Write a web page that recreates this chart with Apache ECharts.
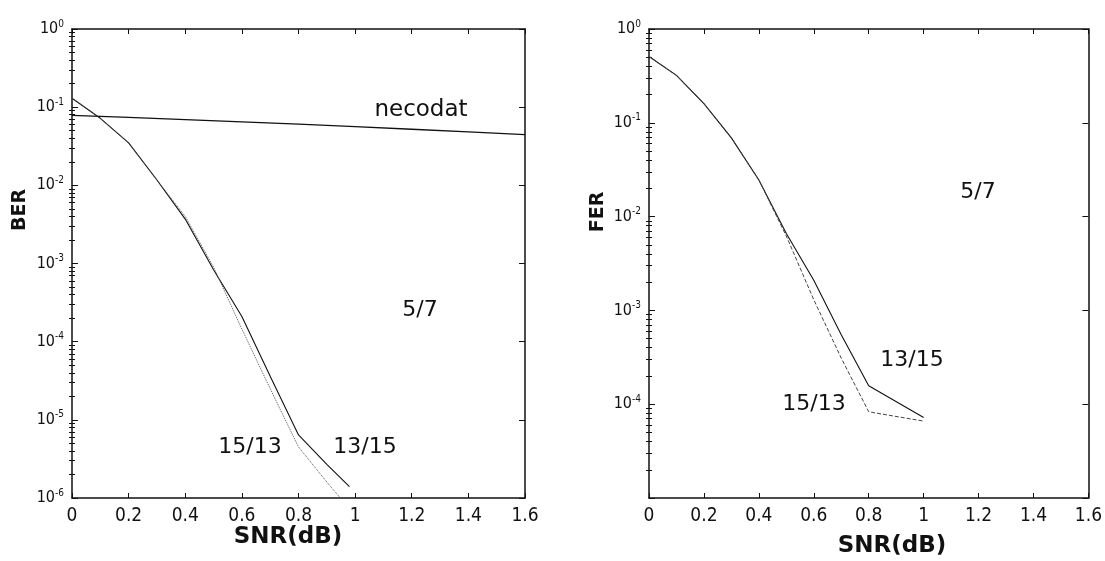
<!DOCTYPE html>
<html>
<head>
<meta charset="utf-8">
<script src="https://cdn.jsdelivr.net/npm/echarts@6/dist/echarts.min.js"></script>
<style>html,body{margin:0;padding:0;background:#fff}#c{width:1105px;height:561px}</style>
</head>
<body>
<div id="c"></div>
<script>
// ---- data ----
const xTicks = [0, 0.2, 0.4, 0.6, 0.8, 1.0, 1.2, 1.4, 1.6];
const berDecades = [1e-6, 1e-5, 1e-4, 1e-3, 1e-2, 1e-1, 1];
const ferDecades = [1e-5, 1e-4, 1e-3, 1e-2, 1e-1, 1];

// BER plot
const necodatSNR = [0, 0.2, 0.4, 0.6, 0.8, 1.0, 1.2, 1.4, 1.6];
const necodatBER = [0.0786, 0.074, 0.0693, 0.0649, 0.0606, 0.0563, 0.0522, 0.0483, 0.0446];
const ber1315SNR = [0, 0.1, 0.2, 0.3, 0.4, 0.5, 0.6, 0.7, 0.8, 0.9, 0.98];
const ber1315 = [0.13, 0.072, 0.035, 0.0117, 0.0037, 8.3e-4, 2.1e-4, 3.6e-5, 6.4e-6, 2.7e-6, 1.4e-6];
const ber1513SNR = [0, 0.1, 0.2, 0.3, 0.4, 0.5, 0.6, 0.7, 0.8, 0.9, 1.0];
const ber1513 = [0.13, 0.072, 0.035, 0.0117, 0.0040, 9.0e-4, 1.45e-4, 2.5e-5, 4.5e-6, 1.6e-6, 6e-7];

// FER plot
const ferSNR = [0, 0.1, 0.2, 0.3, 0.4, 0.5, 0.6, 0.7, 0.8, 1.0];
const fer1315 = [0.51, 0.32, 0.16, 0.069, 0.0246, 0.0066, 0.0021, 5.5e-4, 1.57e-4, 7.2e-5];
const fer1513 = [0.51, 0.32, 0.16, 0.069, 0.0246, 0.0062, 0.0013, 3.1e-4, 8.3e-5, 6.6e-5];

function pairs(xs, ys) { return xs.map((x, i) => [x, ys[i]]); }
function minorsFor(decades) {
  const out = [];
  for (let d = 0; d < decades.length - 1; d++) {
    for (let k = 2; k <= 9; k++) out.push(decades[d] * k);
  }
  return out;
}

const FONT_TICK = '"Liberation Sans Narrow", "DejaVu Sans Condensed", "Liberation Sans", sans-serif';
const FONT_TXT = '"DejaVu Sans", Verdana, sans-serif';
const BLACK = '#111';

function yFormatter(hideBelow) {
  return function (v) {
    const e = Math.round(Math.log10(v));
    if (hideBelow !== undefined && e <= hideBelow) return '';
    return '{b|10}{s|' + e + '}';
  };
}
const yRich = {
  b: { fontSize: 16, fontFamily: FONT_TICK, color: BLACK },
  s: { fontSize: 10, fontFamily: FONT_TICK, color: BLACK, padding: [0, 0, 10, 0] }
};

function xAxesFor(gi) {
  return [
    {
      type: 'value', gridIndex: gi, min: 0, max: 1.6, interval: 0.2, position: 'bottom',
      axisLine: { show: true, onZero: false, lineStyle: { color: BLACK, width: 1.5 } },
      axisTick: { inside: true, length: 5, lineStyle: { color: BLACK } },
      axisLabel: { margin: 9, fontSize: 19, fontFamily: FONT_TICK, color: BLACK },
      splitLine: { show: false }
    },
    {
      type: 'value', gridIndex: gi, min: 0, max: 1.6, interval: 0.2, position: 'top',
      axisLine: { show: true, onZero: false, lineStyle: { color: BLACK, width: 1.5 } },
      axisTick: { inside: true, length: 5, lineStyle: { color: BLACK } },
      axisLabel: { show: false }, splitLine: { show: false }
    }
  ];
}
function yAxesFor(gi, min, decades, hideBelow) {
  const minors = minorsFor(decades);
  const base = {
    type: 'log', logBase: 10, gridIndex: gi, min: min, max: 1,
    splitLine: { show: false }
  };
  return [
    Object.assign({}, base, {
      position: 'left',
      axisLine: { show: true, onZero: false, lineStyle: { color: BLACK, width: 1.5 } },
      axisTick: { inside: true, length: 6, customValues: decades, lineStyle: { color: BLACK } },
      axisLabel: { margin: 8, customValues: decades, formatter: yFormatter(hideBelow), rich: yRich }
    }),
    Object.assign({}, base, {
      position: 'left',
      axisLine: { show: false },
      axisTick: { inside: true, length: 3, customValues: minors, lineStyle: { color: BLACK } },
      axisLabel: { show: false }
    }),
    Object.assign({}, base, {
      position: 'right',
      axisLine: { show: true, onZero: false, lineStyle: { color: BLACK, width: 1.5 } },
      axisTick: { inside: true, length: 6, customValues: decades, lineStyle: { color: BLACK } },
      axisLabel: { show: false }
    }),
    Object.assign({}, base, {
      position: 'right',
      axisLine: { show: false },
      axisTick: { inside: true, length: 3, customValues: minors, lineStyle: { color: BLACK } },
      axisLabel: { show: false }
    })
  ];
}

function line(xi, yi, data, style) {
  return {
    type: 'line', xAxisIndex: xi, yAxisIndex: yi, data: data,
    showSymbol: false, symbol: 'none', animation: false, clip: true,
    lineStyle: Object.assign({ color: BLACK, width: 1 }, style)
  };
}

function txt(x, y, s, opts) {
  return {
    type: 'text', x: x, y: y, rotation: (opts && opts.rot) || 0,
    style: Object.assign({
      text: s, fill: BLACK, font: '22px ' + FONT_TXT,
      textAlign: 'center', textVerticalAlign: 'middle'
    }, opts && opts.style)
  };
}

const chart = echarts.init(document.getElementById('c'), null, { renderer: 'canvas' });
chart.setOption({
  backgroundColor: '#fff',
  animation: false,
  grid: [
    { left: 72, top: 29, width: 453, height: 469 },
    { left: 649, top: 29, width: 441, height: 469 }
  ],
  xAxis: xAxesFor(0).concat(xAxesFor(1)),
  yAxis: yAxesFor(0, 1e-6, berDecades).concat(yAxesFor(1, 1e-5, ferDecades, -5)),
  series: [
    line(0, 0, pairs(necodatSNR, necodatBER), { width: 1.4 }),
    line(0, 0, pairs(ber1315SNR, ber1315), { width: 1.1 }),
    line(0, 0, pairs(ber1513SNR, ber1513), { width: 1, type: 'dotted', color: '#555' }),
    line(2, 4, pairs(ferSNR, fer1315), { width: 1.1 }),
    line(2, 4, pairs(ferSNR, fer1513), { width: 1, type: 'dashed', color: '#444' })
  ],
  graphic: [
    txt(421, 110, 'necodat', { style: { font: '23px ' + FONT_TXT } }),
    txt(420, 310, '5/7'),
    txt(250, 447, '15/13'),
    txt(365, 447, '13/15'),
    txt(978, 192, '5/7'),
    txt(912, 360, '13/15'),
    txt(814, 404, '15/13'),
    txt(20, 210, 'BER', { rot: Math.PI / 2, style: { font: 'bold 19px ' + FONT_TXT } }),
    txt(598, 212, 'FER', { rot: Math.PI / 2, style: { font: 'bold 19px ' + FONT_TXT } }),
    txt(288, 537, 'SNR(dB)', { style: { font: 'bold 23px ' + FONT_TXT } }),
    txt(892, 546, 'SNR(dB)', { style: { font: 'bold 23px ' + FONT_TXT } })
  ]
});
</script>
</body>
</html>
